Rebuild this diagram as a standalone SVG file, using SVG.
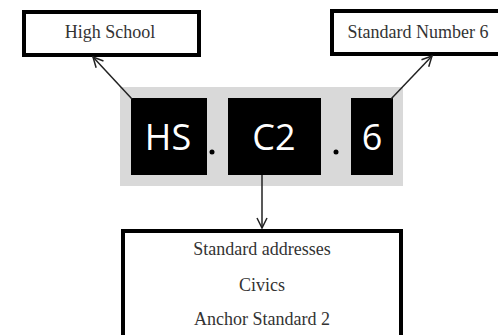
<svg xmlns="http://www.w3.org/2000/svg" width="498" height="335" viewBox="0 0 498 335">
<defs>
<style>
.box{fill:#fff;stroke:#000;stroke-width:4}
.lbl{font-family:"Liberation Serif","Times New Roman",serif;font-size:18px;fill:#333;text-anchor:middle}
.code{font-family:"Open Sans","Noto Sans",sans-serif;font-size:36px;fill:#fff;text-anchor:middle}
.blk{fill:#000}
.conn{stroke:#222;stroke-width:1.5;fill:none;marker-end:url(#arr)}
</style>
<marker id="arr" viewBox="0 0 12 12" refX="11" refY="6" markerWidth="12" markerHeight="12" markerUnits="userSpaceOnUse" orient="auto">
<path d="M1,1 L11,6 L1,11" fill="none" stroke="#222" stroke-width="1.5"/>
</marker>
</defs>
<rect width="498" height="335" fill="#fff"/>
<g id="code">
<rect x="120" y="87" width="283" height="99" fill="#d9d9d9"/>
<g id="hs"><rect class="blk" x="131" y="98" width="76" height="77"/><text class="code" x="168" y="150">HS</text></g>
<circle cx="212" cy="152" r="2.5" fill="#000"/>
<g id="c2"><rect class="blk" x="228" y="98" width="93" height="77"/><text class="code" x="274" y="150">C2</text></g>
<circle cx="336" cy="152" r="2.5" fill="#000"/>
<g id="six"><rect class="blk" x="351" y="98" width="42" height="77"/><text class="code" x="372" y="150">6</text></g>
</g>
<g id="highschool"><rect class="box" x="24" y="12" width="175" height="43"/><text class="lbl" x="110" y="38">High School</text></g>
<g id="standardnumber"><rect class="box" x="332" y="11" width="175" height="43"/><text class="lbl" x="418" y="38">Standard Number 6</text></g>
<g id="description"><rect class="box" x="123" y="231" width="278" height="120"/>
<text class="lbl" x="262" y="255">Standard addresses</text>
<text class="lbl" x="262" y="291">Civics</text>
<text class="lbl" x="262" y="325">Anchor Standard 2</text>
</g>
<g id="connectors">
<line class="conn" x1="132" y1="99" x2="93" y2="57"/>
<line class="conn" x1="391" y1="99" x2="432" y2="56"/>
<line class="conn" x1="262" y1="175" x2="262" y2="228"/>
</g>
</svg>
